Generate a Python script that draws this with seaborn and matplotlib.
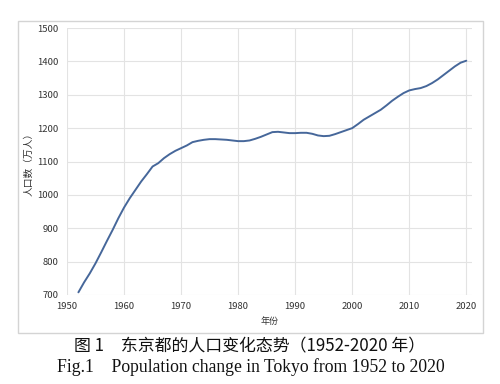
import matplotlib
matplotlib.use("Agg")
import matplotlib.pyplot as plt
import pandas as pd
import seaborn as sns
from matplotlib.patches import Rectangle

# Tokyo population (10k persons)
years = list(range(1952, 2021))
population = [
    708, 738, 765, 795, 828, 862, 895, 930, 962, 990,
    1015, 1040, 1062, 1085, 1095, 1110, 1122, 1132, 1140, 1148,
    1158, 1162, 1165, 1167, 1167, 1166, 1165, 1163, 1161, 1161,
    1163, 1168, 1174, 1181, 1188, 1189, 1187, 1185, 1185, 1186,
    1186, 1183, 1178, 1176, 1177, 1182, 1188, 1194, 1200, 1212,
    1225, 1235, 1245, 1255, 1268, 1282, 1294, 1305, 1313, 1317,
    1320, 1326, 1335, 1346, 1359, 1372, 1385, 1396, 1402,
]
x_ticks = [1950, 1960, 1970, 1980, 1990, 2000, 2010, 2020]
y_ticks = [700, 800, 900, 1000, 1100, 1200, 1300, 1400, 1500]

df = pd.DataFrame({"year": years, "pop": population})

sns.set_theme(style="whitegrid")
plt.rcParams["font.family"] = ["Noto Sans CJK SC", "DejaVu Sans"]

fig = plt.figure(figsize=(5, 3.84), dpi=100)
fig.patch.set_facecolor("white")

# light frame around the chart area
fig.patches.append(Rectangle((18 / 500, 1 - 333 / 384), 465 / 500, 312 / 384,
                             transform=fig.transFigure, fill=False,
                             edgecolor="#d4d4d4", linewidth=1.0))

ax = fig.add_axes([67 / 500, 1 - 295 / 384, 405 / 500, 267 / 384])
sns.lineplot(data=df, x="year", y="pop", ax=ax, color="#46679a", linewidth=1.4)

ax.set_xlim(1950, 2021)
ax.set_ylim(700, 1500)
ax.set_xticks(x_ticks)
ax.set_yticks(y_ticks)
ax.grid(True, color="#e3e3e3", linewidth=0.8)
for s in ax.spines.values():
    s.set_visible(False)
ax.tick_params(axis="both", labelsize=6.8, colors="#333333", length=0)
ax.tick_params(axis="y", pad=6)
ax.tick_params(axis="x", pad=5)
ax.set_xlabel("年份", fontsize=6.5, color="#333333", labelpad=4)
ax.set_ylabel("人口数（万人）", fontsize=7, color="#333333", labelpad=3)

fig.text(0.5, 1 - 346 / 384, "图 1　东京都的人口变化态势（1952-2020 年）",
         ha="center", va="center", fontsize=12.2, fontweight="medium",
         family=["Noto Sans CJK SC", "DejaVu Sans"], color="#111111")
fig.text(0.502, 1 - 367 / 384, "Fig.1　Population change in Tokyo from 1952 to 2020",
         ha="center", va="center", fontsize=12.7,
         family=["Liberation Serif", "Noto Sans CJK SC"], color="#111111")

fig.savefig("out.png", dpi=100)
